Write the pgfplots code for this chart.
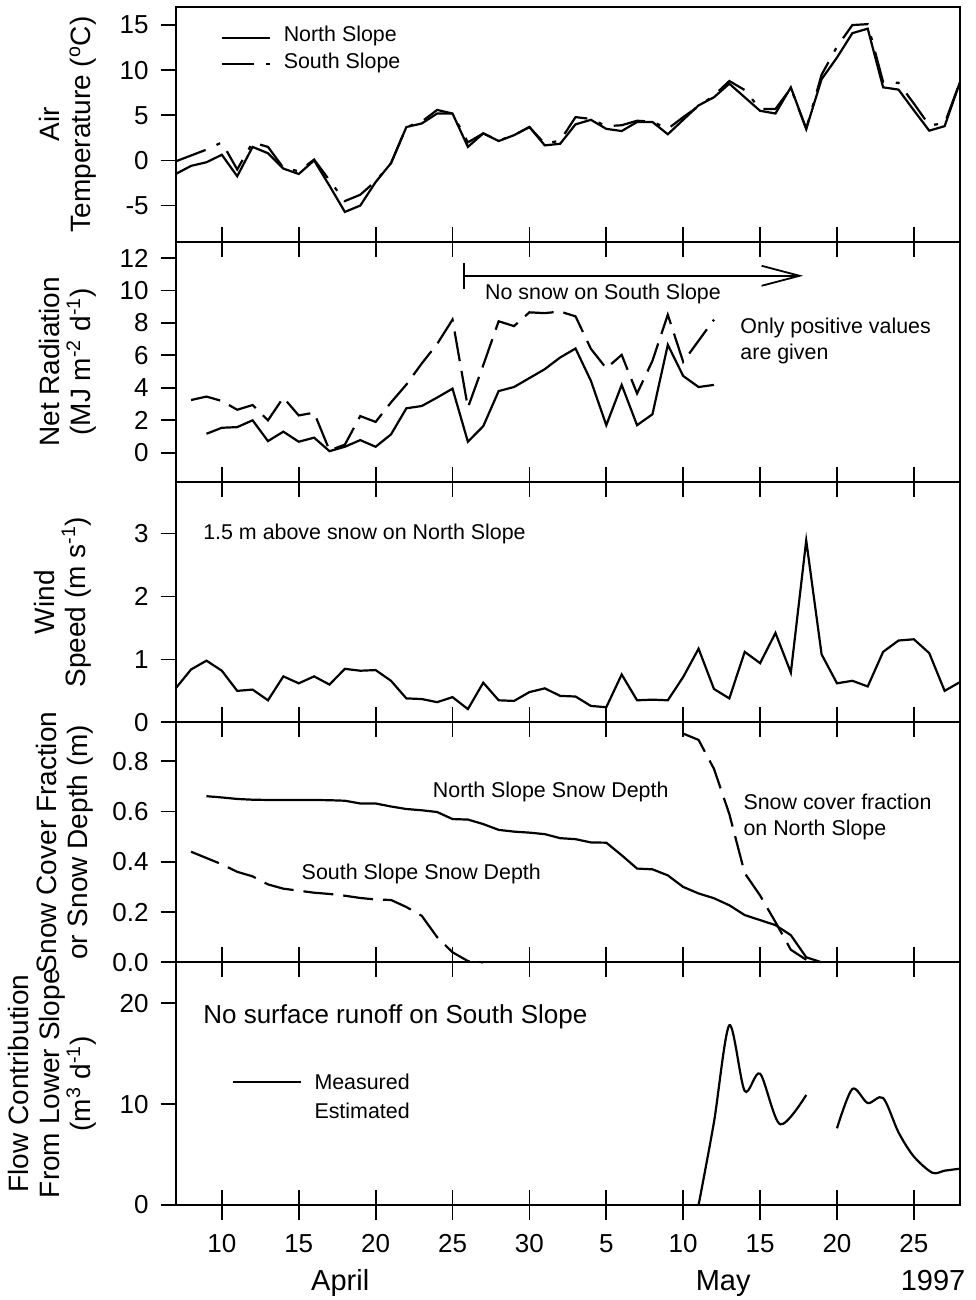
\documentclass[border=0pt]{standalone}
\usepackage{fontspec}
\setmainfont{Liberation Sans}
\usepackage{pgfplots}
\pgfplotsset{compat=1.18}
\usetikzlibrary{arrows.meta}

% days counted from 1 April 1997 (May 5 = 35)
\tikzset{
  north/.style={black, line width=1.1pt, solid},
  south/.style={black, line width=1.1pt, dash pattern=on 16pt off 6pt on 2pt off 6pt},
  dashd/.style={black, line width=1.1pt, dash pattern=on 15pt off 5pt},
  note/.style={font=\fontsize{10.7}{13}\selectfont, inner sep=0pt},
  big/.style={font=\fontsize{14.5}{16}\selectfont, anchor=base, inner sep=0pt},
}
\pgfplotsset{
  panel/.style={
    scale only axis, width=392.15pt,
    xmin=7, xmax=58,
    xtick={10,15,...,55}, xticklabels={},
    xtick align=inside, ytick align=outside,
    ytick pos=left,
    major tick length=7.5pt,
    no marks,
    axis line style={line width=1pt},
    every tick/.style={black, line width=0.9pt},
    tick label style={font=\fontsize{13}{14}\selectfont},
    yticklabel style={xshift=-2.5pt},
    /pgf/number format/assume math mode=true,
    clip=false,
  },
  ylab/.style={every axis y label/.style={
    at={([xshift=-#1]axis description cs:0,0.5)}, rotate=90, anchor=south,
    font=\fontsize{14}{15.5}\selectfont, align=center, inner sep=0pt}},
}

\begin{document}
\begin{tikzpicture}
\path[use as bounding box] (0,0) rectangle (487.5pt,-650pt);

% ---------- air temperature
\begin{axis}[panel, at={(87.85pt,-3.5pt)}, anchor=north west, height=117.35pt,
  xtick pos=bottom,
  ymin=-9, ymax=17, ytick={-5,0,5,10,15},
  ylab=39.5pt, ylabel={Air\\Temperature (\textsuperscript{o}C)}]
\addplot[north] coordinates {
(7,-1.5) (8,-0.6) (9,-0.2) (10,0.63) (11,-1.75) (12,1.5) (13,0.8) (14,-0.9)
(15,-1.5) (16,0.0) (17,-2.8) (18,-5.7) (19,-5.0) (20,-2.4) (21,-0.3) (22,3.7)
(23,4.1) (24,5.2) (25,5.2) (26,1.5) (27,3.0) (28,2.15) (29,2.8) (30,3.7)
(31,1.67) (32,1.85) (33,4.0) (34,4.5) (35,3.5) (36,3.26) (37,4.26) (38,4.26)
(39,2.9) (40,4.5) (41,6.1) (42,7.0) (43,8.5) (44,7.0) (45,5.5) (46,5.2)
(47,8.1) (48,3.5) (49,9.0) (50,11.4) (51,14.1) (52,14.6) (53,8.1) (54,7.85)
(55,5.55) (56,3.3) (57,3.8) (58,8.7)};
\addplot[south] coordinates {
(7,-0.1) (8,0.55) (9,1.2) (10,2.0) (11,-1.0) (12,2.0) (13,1.5) (14,-0.8)
(15,-1.2) (16,0.1) (17,-2.2) (18,-4.5) (19,-3.8) (20,-2.3) (21,-0.3) (22,3.7)
(23,4.3) (24,5.6) (25,5.2) (26,2.0) (27,3.0) (28,2.2) (29,2.8) (30,3.7)
(31,1.85) (32,2.2) (33,4.8) (34,4.6) (35,3.8) (36,3.9) (37,4.4) (38,4.3)
(39,3.5) (40,4.8) (41,6.0) (42,7.2) (43,8.8) (44,7.8) (45,5.7) (46,5.7)
(47,8.0) (48,3.5) (49,9.5) (50,12.6) (51,15.0) (52,15.1) (53,8.7) (54,8.6)
(55,6.3) (56,3.9) (57,4.1) (58,8.7)};
\draw[north] (axis cs:10,13.6) -- (axis cs:13.1,13.6);
\draw[south] (axis cs:10,10.7) -- (axis cs:13.1,10.7);
\node[note, anchor=west] at (axis cs:14,13.8) {North Slope};
\node[note, anchor=west] at (axis cs:14,10.8) {South Slope};
\end{axis}

% ---------- net radiation
\begin{axis}[panel, at={(87.85pt,-120.85pt)}, anchor=north west, height=120.15pt,
  ymin=-1.8, ymax=13, ytick={0,2,...,12},
  ylab=39.5pt, ylabel={Net Radiation\\(MJ m\textsuperscript{-2} d\textsuperscript{-1})}]
\addplot[north] coordinates {
(9,1.17) (10,1.54) (11,1.58) (12,2.0) (13,0.72) (14,1.3) (15,0.68) (16,0.93)
(17,0.1) (18,0.37) (19,0.78) (20,0.37) (21,1.13) (22,2.74) (23,2.88) (24,3.4)
(25,3.95) (26,0.68) (27,1.64) (28,3.8) (29,4.05) (30,4.6) (31,5.15) (32,5.87)
(33,6.42) (34,4.43) (35,1.7) (36,4.18) (37,1.7) (38,2.37) (39,6.65) (40,4.73)
(41,4.05) (42,4.18)};
\addplot[dashd] coordinates {
(8,3.25) (9,3.46) (10,3.19) (11,2.65) (12,2.94) (13,2.0) (14,3.4) (15,2.3)
(16,2.47) (17,0.15) (18,0.5) (19,2.26) (20,1.9) (21,3.1) (22,4.2) (23,5.5)
(24,6.7) (25,8.2) (26,2.78) (27,5.4) (28,8.1) (29,7.8) (30,8.65) (31,8.6)
(32,8.7) (33,8.4) (34,6.4) (35,5.2) (36,6.03) (37,3.65) (38,5.66) (39,8.5)
(40,5.6) (41,6.9) (42,8.2)};
\draw[line width=0.9pt, {Bar[width=13pt]}-{Straight Barb[length=19pt, width=10pt]}]
  (axis cs:25.7,10.9) -- (axis cs:47.8,10.9);
\node[note, anchor=west] at (axis cs:27.1,9.8) {No snow on South Slope};
\node[note, anchor=north west, align=left] at (axis cs:43.7,8.3)
  {Only positive values\\are given};
\end{axis}

% ---------- wind speed
\begin{axis}[panel, at={(87.85pt,-241pt)}, anchor=north west, height=120.15pt,
  ymin=0, ymax=3.82, ytick={0,1,2,3},
  ylab=42pt, ylabel={Wind\\Speed (m s\textsuperscript{-1})}]
\addplot[north] coordinates {
(7,0.54) (8,0.84) (9,0.98) (10,0.82) (11,0.5) (12,0.52) (13,0.35) (14,0.73)
(15,0.62) (16,0.73) (17,0.6) (18,0.85) (19,0.82) (20,0.83) (21,0.66) (22,0.38)
(23,0.37) (24,0.32) (25,0.4) (26,0.21) (27,0.63) (28,0.35) (29,0.34) (30,0.48)
(31,0.54) (32,0.42) (33,0.41) (34,0.26) (35,0.24) (36,0.76) (37,0.35) (38,0.36)
(39,0.35) (40,0.72) (41,1.17) (42,0.53) (43,0.38) (44,1.12) (45,0.94) (46,1.42)
(47,0.79) (48,2.89) (49,1.08) (50,0.62) (51,0.66) (52,0.57) (53,1.12) (54,1.3)
(55,1.32) (56,1.1) (57,0.5) (58,0.64)};
\node[note, anchor=west] at (axis cs:8.77,3.0) {1.5 m above snow on North Slope};
\end{axis}

% ---------- snow cover and depth
\begin{axis}[panel, at={(87.85pt,-361.15pt)}, anchor=north west, height=120pt,
  ymin=0, ymax=0.955, ytick={0,0.2,0.4,0.6,0.8},
  yticklabel style={/pgf/number format/.cd, fixed, fixed zerofill, precision=1},
  ylab=41.2pt, ylabel={Snow Cover Fraction\\or Snow Depth (m)}]
\addplot[north] coordinates {
(9,0.661) (10,0.656) (11,0.65) (12,0.647) (13,0.646) (14,0.646) (15,0.646)
(16,0.646) (17,0.645) (18,0.643) (19,0.632) (20,0.632) (21,0.62) (22,0.61)
(23,0.605) (24,0.598) (25,0.57) (26,0.568) (27,0.55) (28,0.527) (29,0.52)
(30,0.516) (31,0.51) (32,0.494) (33,0.49) (34,0.477) (35,0.476) (36,0.426)
(37,0.373) (38,0.37) (39,0.346) (40,0.30) (41,0.274) (42,0.255) (43,0.227)
(44,0.188) (45,0.168) (46,0.148) (47,0.108) (48,0.02) (49,0.0)};
\addplot[dashd] coordinates {
(8,0.44) (9,0.415) (10,0.39) (11,0.36) (12,0.342) (13,0.31) (14,0.293)
(15,0.285) (16,0.277) (17,0.272) (18,0.265) (19,0.256) (20,0.25) (21,0.248)
(22,0.22) (23,0.185) (24,0.10) (25,0.04) (26,0.005) (27,0.0)};
\addplot[dashd] coordinates {
(40,0.91) (41,0.885) (42,0.77) (43,0.59) (44,0.355) (45,0.266) (46,0.16)
(47,0.05) (48,0.01)};
\node[note, anchor=west] at (axis cs:23.7,0.677) {North Slope Snow Depth};
\node[note, anchor=west] at (axis cs:15.17,0.35) {South Slope Snow Depth};
\node[note, anchor=north west, align=left] at (axis cs:43.9,0.672)
  {Snow cover fraction\\on North Slope};
\end{axis}

% ---------- flow contribution
\begin{axis}[panel, at={(87.85pt,-481.15pt)}, anchor=north west, height=121.35pt,
  ymin=0, ymax=24.04, ytick={0,10,20},
  xticklabels={10,15,20,25,30,5,10,15,20,25},
  xticklabel style={anchor=base, yshift=-23.5pt},
  extra x ticks={10,15,...,55}, extra x tick labels={},
  extra x tick style={tick align=outside},
  ylab=39.5pt,
  ylabel={Flow Contribution\\From Lower Slope\\(m\textsuperscript{3} d\textsuperscript{-1})}]
\addplot[north, smooth] coordinates {
(41,0) (42,8.2) (43,17.8) (44,11.3) (45,13.0) (46.3,8.0) (48,10.9)};
\addplot[north, smooth] coordinates {
(50,7.6) (51,11.5) (52,10.1) (53,10.6) (54,7.2) (55,4.8) (56.2,3.2) (57,3.4) (58,3.6)};
\node[font=\fontsize{13}{15}\selectfont, inner sep=0pt, anchor=west] at (axis cs:8.77,18.6)
  {No surface runoff on South Slope};
\draw[north] (axis cs:10.7,12.2) -- (axis cs:15.17,12.2);
\node[note, anchor=west] at (axis cs:16.0,12.2) {Measured};
\node[note, anchor=west] at (axis cs:16.0,9.3) {Estimated};
\node[big] at ([yshift=-42.5pt]axis cs:17.7,0) {April};
\node[big] at ([yshift=-42.5pt]axis cs:42.6,0) {May};
\node[big] at ([yshift=-42.5pt]axis cs:56.25,0) {1997};
\end{axis}
\end{tikzpicture}
\end{document}
